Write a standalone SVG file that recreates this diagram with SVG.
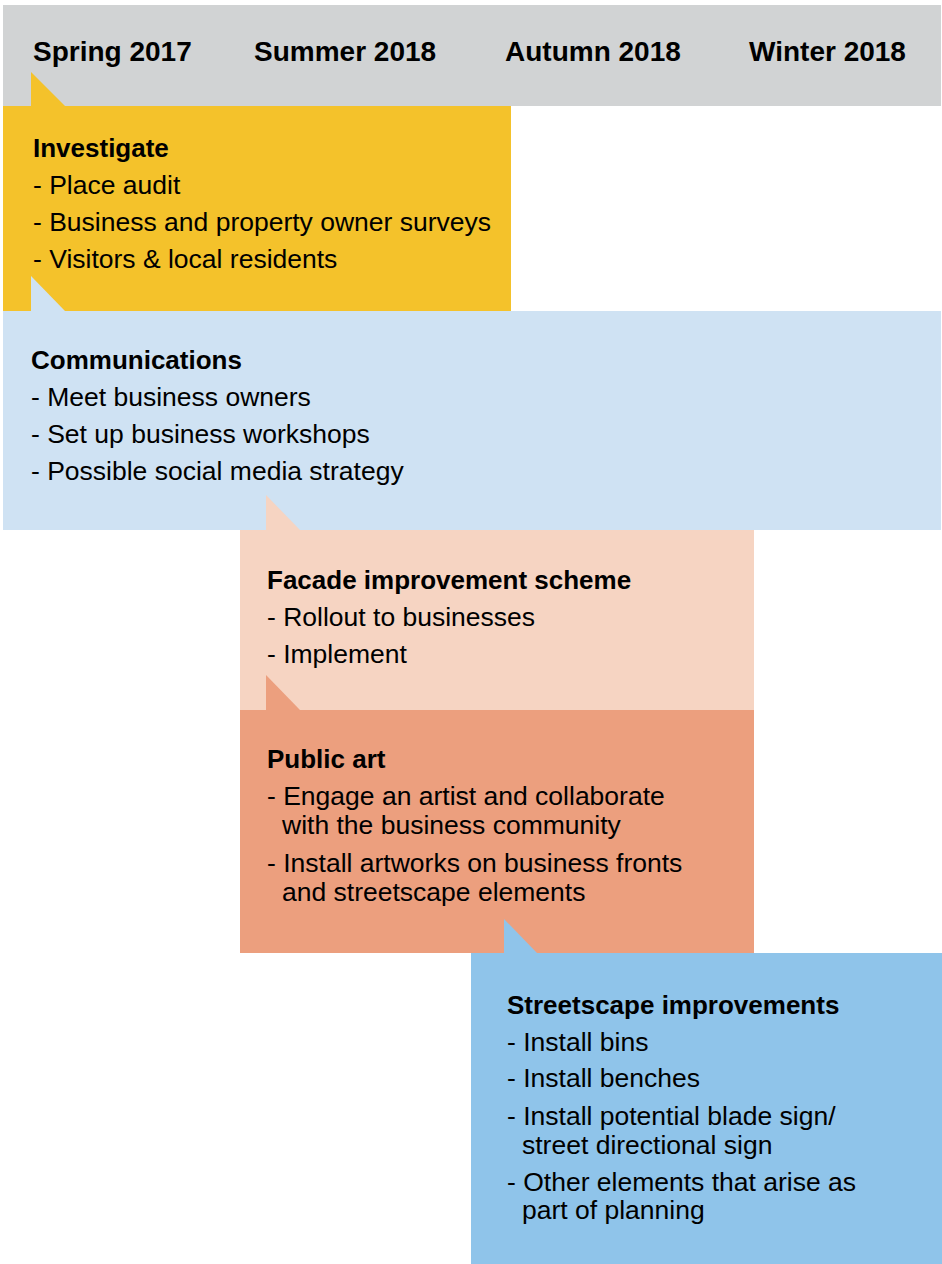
<svg xmlns="http://www.w3.org/2000/svg" width="942" height="1264" viewBox="0 0 942 1264">
<style>
text{font-family:"Liberation Sans",Arial,sans-serif;fill:#000}
.hd{font-size:28px;font-weight:bold}
.h{font-size:26px;font-weight:bold}
.t{font-size:26.5px}
</style>
<rect width="942" height="1264" fill="#ffffff"/>
<g id="header">
<rect x="3" y="5" width="938" height="101" fill="#D1D3D4"/>
<text class="hd" x="33" y="61">Spring 2017</text>
<text class="hd" x="254" y="61">Summer 2018</text>
<text class="hd" x="505" y="61">Autumn 2018</text>
<text class="hd" x="749" y="61">Winter 2018</text>
</g>
<g id="investigate">
<rect x="3" y="106" width="508" height="205" fill="#F4C22B"/>
<polygon points="31,72 31,106 65,106" fill="#F4C22B"/>
<text class="h" x="33" y="157">Investigate</text>
<text class="t" x="33" y="194">- Place audit</text>
<text class="t" x="33" y="231">- Business and property owner surveys</text>
<text class="t" x="33" y="268">- Visitors &amp; local residents</text>
</g>
<g id="communications">
<rect x="3" y="311" width="938" height="219" fill="#CFE2F3"/>
<polygon points="31,276 31,311 65,311" fill="#CFE2F3"/>
<text class="h" x="31" y="369">Communications</text>
<text class="t" x="31" y="406">- Meet business owners</text>
<text class="t" x="31" y="443">- Set up business workshops</text>
<text class="t" x="31" y="480">- Possible social media strategy</text>
</g>
<g id="facade">
<rect x="240" y="530" width="514" height="180" fill="#F6D4C2"/>
<polygon points="266,495 266,530 300,530" fill="#F6D4C2"/>
<text class="h" x="267" y="589">Facade improvement scheme</text>
<text class="t" x="267" y="626">- Rollout to businesses</text>
<text class="t" x="267" y="663">- Implement</text>
</g>
<g id="public-art">
<rect x="240" y="710" width="514" height="243" fill="#EC9F7E"/>
<polygon points="266,675 266,710 300,710" fill="#EC9F7E"/>
<text class="h" x="267" y="768">Public art</text>
<text class="t" x="267" y="805">- Engage an artist and collaborate</text>
<text class="t" x="282" y="834">with the business community</text>
<text class="t" x="267" y="872">- Install artworks on business fronts</text>
<text class="t" x="282" y="901">and streetscape elements</text>
</g>
<g id="streetscape">
<rect x="471" y="953" width="471" height="311" fill="#8FC4EA"/>
<polygon points="504,919 504,953 537,953" fill="#8FC4EA"/>
<text class="h" x="507" y="1014">Streetscape improvements</text>
<text class="t" x="507" y="1051">- Install bins</text>
<text class="t" x="507" y="1087">- Install benches</text>
<text class="t" x="507" y="1125">- Install potential blade sign/</text>
<text class="t" x="522" y="1154">street directional sign</text>
<text class="t" x="507" y="1191">- Other elements that arise as</text>
<text class="t" x="522" y="1219">part of planning</text>
</g>
<g id="connectors"></g>
</svg>
